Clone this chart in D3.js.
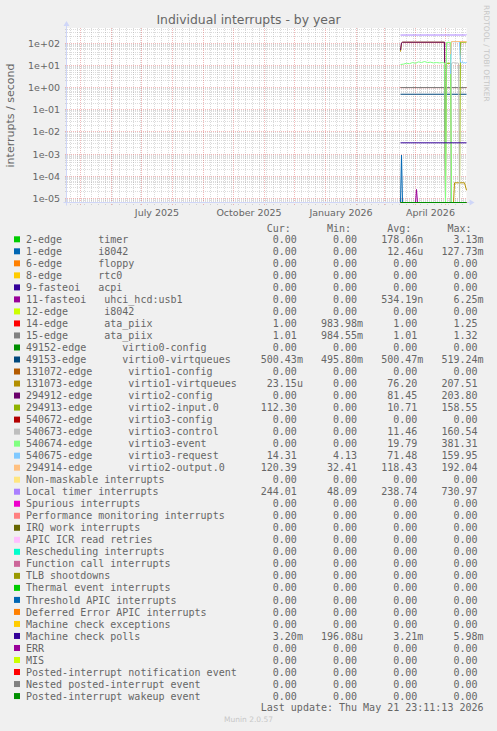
<!DOCTYPE html>
<html><head><meta charset="utf-8">
<script src="https://cdn.jsdelivr.net/npm/d3@7"></script>
<style>
html,body{margin:0;padding:0;background:#f0f0f0;}
svg{display:block;}
text{font-family:"DejaVu Sans",sans-serif;fill:#666666;}
.mono{font-family:"DejaVu Sans Mono",monospace;white-space:pre;font-size:10px;}
</style></head><body>
<svg id="chart" width="497" height="731" xml:space="preserve"></svg>
<script>
// ---------- DATA ----------
const seriesLabels = [
  "2-edge      timer","1-edge      i8042","6-edge      floppy","8-edge      rtc0","9-fasteoi   acpi",
  "11-fasteoi   uhci_hcd:usb1","12-edge      i8042","14-edge      ata_piix","15-edge      ata_piix",
  "49152-edge      virtio0-config","49153-edge      virtio0-virtqueues","131072-edge      virtio1-config",
  "131073-edge      virtio1-virtqueues","294912-edge      virtio2-config","294913-edge      virtio2-input.0",
  "540672-edge      virtio3-config","540673-edge      virtio3-control","540674-edge      virtio3-event",
  "540675-edge      virtio3-request","294914-edge      virtio2-output.0","Non-maskable interrupts",
  "Local timer interrupts","Spurious interrupts","Performance monitoring interrupts","IRQ work interrupts",
  "APIC ICR read retries","Rescheduling interrupts","Function call interrupts","TLB shootdowns",
  "Thermal event interrupts","Threshold APIC interrupts","Deferred Error APIC interrupts",
  "Machine check exceptions","Machine check polls","ERR","MIS","Posted-interrupt notification event",
  "Nested posted-interrupt event","Posted-interrupt wakeup event"
];
const seriesColors = [
  "#00CC00","#0066B3","#FF8000","#FFCC00","#330099","#990099","#CCFF00","#FF0000","#808080",
  "#008F00","#00487D","#B35A00","#B38F00","#6B006B","#8FB300","#B30000","#BEBEBE","#80FF80",
  "#80C9FF","#FFC080","#FFE680","#AA80FF","#EE00CC","#FF8080","#666600","#FFBFFF","#00FFCC",
  "#CC6699","#999900","#00CC00","#0066B3","#FF8000","#FFCC00","#330099","#990099","#CCFF00",
  "#FF0000","#808080","#008F00"
];
const curValues = ["0.00","0.00","0.00","0.00","0.00","0.00","0.00","1.00","1.01","0.00","500.43m","0.00",
  "23.15u","0.00","112.30","0.00","0.00","0.00","14.31","120.39","0.00","244.01","0.00","0.00","0.00",
  "0.00","0.00","0.00","0.00","0.00","0.00","0.00","0.00","3.20m","0.00","0.00","0.00","0.00","0.00"];
const minValues = ["0.00","0.00","0.00","0.00","0.00","0.00","0.00","983.98m","984.55m","0.00","495.80m","0.00",
  "0.00","0.00","0.00","0.00","0.00","0.00","4.13","32.41","0.00","48.09","0.00","0.00","0.00",
  "0.00","0.00","0.00","0.00","0.00","0.00","0.00","0.00","196.08u","0.00","0.00","0.00","0.00","0.00"];
const avgValues = ["178.06n","12.46u","0.00","0.00","0.00","534.19n","0.00","1.00","1.01","0.00","500.47m","0.00",
  "76.20","81.45","10.71","0.00","11.46","19.79","71.48","118.43","0.00","238.74","0.00","0.00","0.00",
  "0.00","0.00","0.00","0.00","0.00","0.00","0.00","0.00","3.21m","0.00","0.00","0.00","0.00","0.00"];
const maxValues = ["3.13m","127.73m","0.00","0.00","0.00","6.25m","0.00","1.25","1.32","0.00","519.24m","0.00",
  "207.51","203.80","158.55","0.00","160.54","381.31","159.95","192.04","0.00","730.97","0.00","0.00","0.00",
  "0.00","0.00","0.00","0.00","0.00","0.00","0.00","0.00","5.98m","0.00","0.00","0.00","0.00","0.00"];

const yTickValues = [1e2,1e1,1e0,1e-1,1e-2,1e-3,1e-4,1e-5];
const yTickLabels = ["1e+02","1e+01","1e+00","1e-01","1e-02","1e-03","1e-04","1e-05"];
const xLabelMonths = ["2025-07-01","2025-10-01","2026-01-01","2026-04-01"];
const xLabelTexts = ["July 2025","October 2025","January 2026","April 2026"];

// series values [date, interrupts/second]
const zeroData = [["2026-03-17",0],["2026-05-22",0]];
const data_1edge = [["2026-03-17",0],["2026-03-18",9e-4],["2026-03-19",0],["2026-05-22",0]];
const data_11fasteoi = [["2026-03-17",0],["2026-04-01",0],["2026-04-02",2.5e-5],["2026-04-03",0],["2026-05-22",0]];
const data_14edge = [["2026-03-17",1.0],["2026-05-22",1.0]];
const data_15edge = [["2026-03-17",1.01],["2026-05-22",1.01]];
const data_49153 = [["2026-03-17",0.5],["2026-05-22",0.5]];
const data_131073 = [["2026-03-17",42],["2026-03-18",100],["2026-03-19",112],["2026-04-30",112],["2026-05-01",0],
  ["2026-05-09",0],["2026-05-10",5e-5],["2026-05-20",5e-5],["2026-05-22",2.3e-5]];
const data_294912 = [["2026-03-17",50],["2026-03-18",105],["2026-03-19",112],["2026-04-30",112],["2026-05-01",0],["2026-05-22",0]];
const data_294913 = [["2026-03-17",0],["2026-05-01",0],["2026-05-02",12.5],["2026-05-06",12.5],["2026-05-07",0],
  ["2026-05-15",0],["2026-05-16",112],["2026-05-22",112.3]];
const data_540673 = [["2026-03-17",0],["2026-05-06",0],["2026-05-07",12.5],["2026-05-09",13.5],["2026-05-11",12.5],
  ["2026-05-13",13],["2026-05-14",12.5],["2026-05-15",0],["2026-05-22",0]];
const data_540674 = [["2026-03-17",11],["2026-03-20",11.5],["2026-03-23",12.5],["2026-03-26",12],["2026-03-29",13.5],
  ["2026-04-01",12.5],["2026-04-04",14.5],["2026-04-07",13.5],["2026-04-10",15],["2026-04-13",13.5],["2026-04-16",14],
  ["2026-04-19",13],["2026-04-22",13.5],["2026-04-25",13],["2026-04-28",13.5],["2026-04-30",13],["2026-05-01",0],
  ["2026-05-02",110],["2026-05-06",110],["2026-05-07",0],["2026-05-22",0]];
const data_540675 = [["2026-05-06",4.13],["2026-05-07",118],["2026-05-15",118],["2026-05-16",14],["2026-05-17",13],
  ["2026-05-18",15],["2026-05-19",12.5],["2026-05-20",13.5],["2026-05-21",12.5],["2026-05-22",14.3]];
const data_294914 = [["2026-05-06",32.4],["2026-05-07",120],["2026-05-22",120.4]];
const data_localTimer = [["2026-03-17",236],["2026-05-21",237],["2026-05-22",244]];
const data_mcePolls = [["2026-03-17",3.2e-3],["2026-05-22",3.2e-3]];

const seriesData = [
  zeroData, data_1edge, zeroData, zeroData, zeroData, data_11fasteoi, zeroData, data_14edge, data_15edge,
  zeroData, data_49153, zeroData, data_131073, data_294912, data_294913, zeroData, data_540673, data_540674,
  data_540675, data_294914, zeroData, data_localTimer, zeroData, zeroData, zeroData, zeroData, zeroData,
  zeroData, zeroData, zeroData, zeroData, zeroData, zeroData, data_mcePolls, zeroData, zeroData, zeroData,
  zeroData, zeroData
];

// ---------- LAYOUT ----------
const W = 497, H = 731;
const X0 = 66.5, X1 = 466.5, Y0 = 28, Y1 = 202.5;
const parse = d3.timeParse("%Y-%m-%d");
const endDate = parse("2026-05-22");
const startDate = d3.timeDay.offset(endDate, -400);
const yMin = Math.pow(10, -5.19), yMax = Math.pow(10, 2.691);

const x = d3.scaleTime().domain([startDate, endDate]).range([X0, X1]);
const y = d3.scaleLog().domain([yMin, yMax]).range([Y1, Y0]);

const svg = d3.select("#chart");
svg.append("rect").attr("width", W).attr("height", H).attr("fill", "#f0f0f0");
svg.append("rect").attr("x", X0).attr("y", Y0).attr("width", X1 - X0).attr("height", Y1 - Y0 + 0.5).attr("fill", "#ffffff");

const snap = v => Math.floor(v) + 0.5;
const grid = svg.append("g").attr("shape-rendering", "crispEdges");

// horizontal minor grid
const minorY = [];
for (let k = -6; k <= 2; k++) for (let m = 2; m <= 9; m++) {
  const v = m * Math.pow(10, k);
  if (v > yMin && v < yMax) minorY.push(v);
}
grid.selectAll("line.hmin").data(minorY).enter().append("line")
  .attr("x1", X0 - 2).attr("x2", X1).attr("y1", d => snap(y(d))).attr("y2", d => snap(y(d)))
  .attr("stroke", "rgba(143,143,143,0.32)").attr("stroke-dasharray", "1,1");
// vertical minor grid (weeks)
const monthStarts = d3.timeMonth.range(d3.timeDay.offset(startDate, 1), endDate);
const weekLines = d3.timeMonday.range(startDate, endDate).filter(d => d.getDate() !== 1);
grid.selectAll("line.vmin").data(weekLines).enter().append("line")
  .attr("x1", d => snap(x(d))).attr("x2", d => snap(x(d))).attr("y1", Y0).attr("y2", Y1 + 2.5)
  .attr("stroke", "rgba(143,143,143,0.32)").attr("stroke-dasharray", "1,1");
// major grid
grid.selectAll("line.hmaj").data(yTickValues).enter().append("line")
  .attr("x1", X0 - 2).attr("x2", X1).attr("y1", d => snap(y(d))).attr("y2", d => snap(y(d)))
  .attr("stroke", "rgba(222,79,79,0.4)").attr("stroke-dasharray", "1,1");
grid.selectAll("line.vmaj").data(monthStarts).enter().append("line")
  .attr("x1", d => snap(x(d))).attr("x2", d => snap(x(d))).attr("y1", Y0).attr("y2", Y1 + 2.5)
  .attr("stroke", "rgba(222,79,79,0.4)").attr("stroke-dasharray", "1,1");

// axes
const axisCol = "#CFD6F8";
svg.append("line").attr("x1", X0 - 3).attr("x2", X1 + 3).attr("y1", Y1).attr("y2", Y1)
  .attr("stroke", axisCol).attr("stroke-width", 1);
svg.append("line").attr("x1", X0).attr("x2", X0).attr("y1", Y1 + 3).attr("y2", Y0 - 3)
  .attr("stroke", axisCol).attr("stroke-width", 1);

// series lines
svg.append("clipPath").attr("id", "plotclip").append("rect")
  .attr("x", X0).attr("y", Y0 - 1).attr("width", X1 - X0 + 0.5).attr("height", Y1 - Y0 + 2);
const line = d3.line()
  .x(d => x(parse(d[0])))
  .y(d => y(Math.max(d[1], yMin)));
const lines = svg.append("g").attr("clip-path", "url(#plotclip)");
seriesData.forEach((s, i) => {
  lines.append("path").attr("d", line(s)).attr("fill", "none")
    .attr("stroke", seriesColors[i]).attr("stroke-width", 1).attr("stroke-linejoin", "miter");
});

// arrows
svg.append("path").attr("d", `M${X0 - 3},${Y0 - 2} L${X0 + 3},${Y0 - 2} L${X0},${Y0 - 7} Z`).attr("fill", axisCol);
svg.append("path").attr("d", `M${X1 + 3},${Y1 - 3} L${X1 + 3},${Y1 + 3} L${X1 + 8},${Y1} Z`).attr("fill", axisCol);

// y tick labels
svg.selectAll("text.ytick").data(yTickValues).enter().append("text")
  .attr("x", 60).attr("y", d => snap(y(d)) + 3.3).attr("text-anchor", "end")
  .style("font-size", "9.5px").text((d, i) => yTickLabels[i]);
// x labels centered in month
svg.selectAll("text.xlab").data(xLabelMonths).enter().append("text")
  .attr("x", d => { const m = parse(d); return (x(m) + x(d3.timeMonth.offset(m, 1))) / 2; })
  .attr("y", 216.2).attr("text-anchor", "middle").style("font-size", "9.5px")
  .text((d, i) => xLabelTexts[i]);

// title
svg.append("text").attr("x", W / 2).attr("y", 23.6).attr("text-anchor", "middle")
  .style("font-size", "12.4px").text("Individual interrupts - by year");
// unit
svg.append("text").attr("transform", "translate(14.2,115.5) rotate(-90)").attr("text-anchor", "middle")
  .style("font-size", "11px").text("interrupts / second");
// watermark right
svg.append("text").attr("transform", "translate(484,5) rotate(90)").attr("text-anchor", "start")
  .style("font-size", "7.5px").style("fill", "#c7c7c7").text("RRDTOOL / TOBI OETIKER");

// legend
const legY0 = 239.3, legDY = 12.02, textX = 26, cw = 6.02;
const colEnds = [45, 55, 65, 75].map(c => textX + c * cw);
const headers = ["Cur:", "Min:", "Avg:", "Max:"];
headers.forEach((h, j) => {
  svg.append("text").attr("class", "mono").attr("x", colEnds[j] - cw).attr("y", legY0 - 11 + 3.6)
    .attr("text-anchor", "end").text(h);
});
const cols = [curValues, minValues, avgValues, maxValues];
seriesLabels.forEach((lab, i) => {
  const cy = legY0 + i * legDY;
  svg.append("rect").attr("x", 14).attr("y", cy - 3).attr("width", 6).attr("height", 6)
    .attr("fill", seriesColors[i]);
  svg.append("text").attr("class", "mono").attr("x", textX).attr("y", cy + 3.6).text(lab);
  cols.forEach((arr, j) => {
    const m = arr[i].match(/^([\d.]+)(.*)$/);
    svg.append("text").attr("class", "mono").attr("x", colEnds[j]).attr("y", cy + 3.6)
      .attr("text-anchor", "end").text(m[1]);
    if (m[2]) svg.append("text").attr("class", "mono").attr("x", colEnds[j]).attr("y", cy + 3.6).text(m[2]);
  });
});
svg.append("text").attr("class", "mono").attr("x", textX + 76 * cw).attr("y", 707.7 + 3.6)
  .attr("text-anchor", "end").text("Last update: Thu May 21 23:11:13 2026");
svg.append("text").attr("x", W / 2).attr("y", 722).attr("text-anchor", "middle")
  .style("font-size", "7.5px").style("fill", "#c7c7c7").text("Munin 2.0.57");
</script>
</body></html>
